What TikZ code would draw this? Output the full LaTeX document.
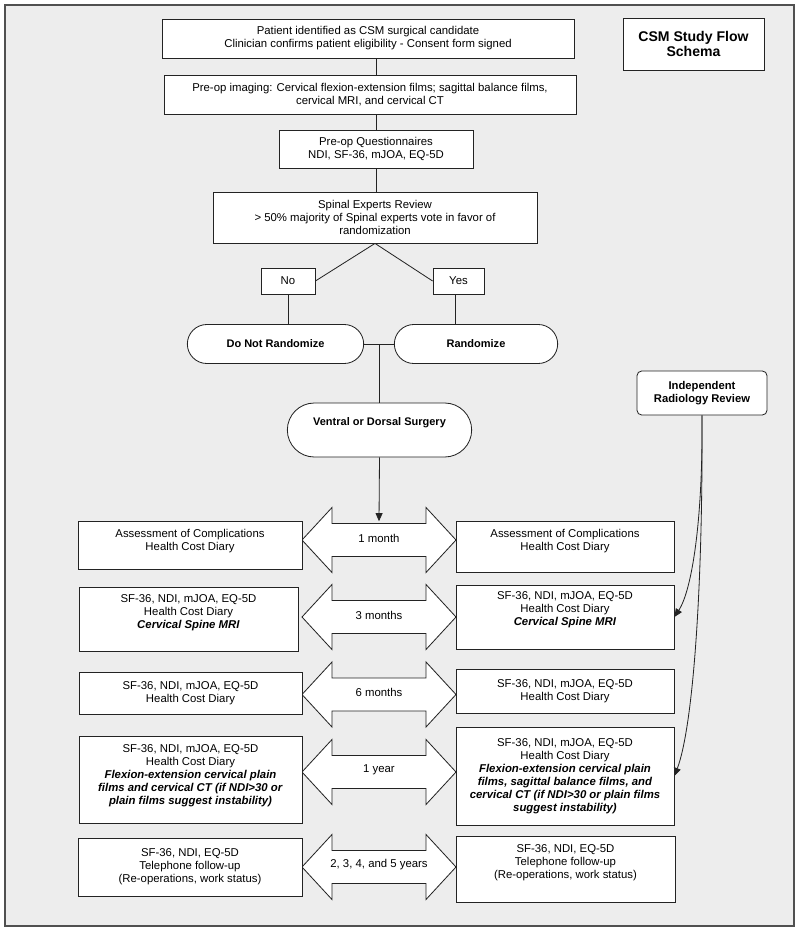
\documentclass[tikz,border=0pt]{standalone}
\usepackage{fontspec}
\setmainfont{Liberation Sans}
\usepackage{xcolor}
\usetikzlibrary{shapes.misc,arrows.meta}
\definecolor{csmbg}{RGB}{237,237,237}
\definecolor{csmline}{RGB}{35,35,35}
\definecolor{csmframe}{RGB}{80,80,80}

% double-headed time arrow centred at (#1,#2)
\newcommand{\timearrow}[2]{%
  \draw[tarrow] (#1-47,#2-16.5) -- ++(0,-16) -- ++(-30,32.5) -- ++(30,32.5)
    -- ++(0,-16) -- ++(94,0) -- ++(0,16) -- ++(30,-32.5) -- ++(-30,-32.5)
    -- ++(0,16) -- cycle;}

\tikzset{
  box/.style={draw=csmline, line width=0.7pt, fill=white, align=center, inner sep=2pt,
    font=\fontsize{9.7}{11.1}\selectfont},
  pill/.style={box, shape=rounded rectangle, font=\fontsize{9.4}{11}\selectfont\bfseries},
  tarrow/.style={draw=csmline, line width=0.7pt, fill=white},
  tlabel/.style={inner sep=0pt, minimum height=0.99cm, font=\fontsize{9.7}{11.1}\selectfont},
  link/.style={draw=csmline, line width=0.7pt},
  arr/.style={link, -{Triangle[length=7pt,width=6pt]}}
}

\begin{document}
\begin{tikzpicture}[x=0.03cm, y=-0.03cm]
\useasboundingbox (0,0) rectangle (800,932);
% Frame
\draw[csmframe, line width=1.2pt, fill=csmbg] (5,5) rectangle (794,926);

% Pre-op steps
\coordinate (axis) at (376,0);
\node[box, minimum width=12.36cm, minimum height=1.17cm] (patient) at (368,38.5)
  {Patient identified as CSM surgical candidate\\Clinician confirms patient eligibility - Consent form signed};
\node[box, minimum width=12.36cm, minimum height=1.17cm] (imaging) at (370,94.5)
  {Pre-op imaging: Cervical flexion-extension films; sagittal balance films,\\cervical MRI, and cervical CT};
\node[box, minimum width=5.82cm, minimum height=1.14cm] (quest) at (376,149)
  {Pre-op Questionnaires\\NDI, SF-36, mJOA, EQ-5D};
\node[box, minimum width=9.72cm, minimum height=1.53cm] (review) at (375,217.5)
  {Spinal Experts Review\\> 50\% majority of Spinal experts vote in favor of\\randomization};
\node[box, minimum width=4.23cm, minimum height=1.56cm, font=\fontsize{12}{13.6}\selectfont\bfseries]
  (title) at (693.5,44) {CSM Study Flow\\Schema};

\draw[link] (patient.south -| axis) -- (imaging.north -| axis);
\draw[link] (imaging.south -| axis) -- (quest.north);
\draw[link] (quest.south) -- (review.north -| quest.south);

% Decision
\node[box, minimum width=1.62cm, minimum height=0.78cm] (no) at (288,281) {No};
\node[box, minimum width=1.53cm, minimum height=0.78cm] (yes) at (458.5,281) {Yes};
\node[pill, minimum width=5.43cm, minimum height=1.17cm] (dnr) at (275.5,344) {Do Not Randomize};
\node[pill, minimum width=5.04cm, minimum height=1.17cm] (rand) at (476,344) {Randomize};
\node[pill, minimum width=5.67cm, minimum height=1.62cm] (surgery) at (379.5,430)
  {Ventral or Dorsal Surgery\\[4pt]};

\draw[link] (review.south) -- (no.east);
\draw[link] (review.south) -- (yes.west);
\draw[link] (no.south) -- (no.south |- dnr.north);
\draw[link] ([xshift=-2.5]yes.south) -- ([xshift=-2.5]yes.south |- rand.north);
\draw[link] (dnr.east) -- (rand.west);
\draw[link] (surgery.north) -- (surgery.north |- dnr.east);

% Radiology
\node[box, rounded corners=4pt, minimum width=3.9cm, minimum height=1.32cm,
  font=\fontsize{9.6}{11.4}\selectfont\bfseries] (radio) at (702,393) {Independent\\Radiology Review};

% Follow-up time points
\timearrow{379}{540}
\timearrow{379}{617}
\timearrow{379}{694.5}
\timearrow{379}{772}
\timearrow{379}{867}
\node[tlabel] (t1) at (379,538) {1 month};
\node[tlabel] (t2) at (379,615) {3 months};
\node[tlabel] (t3) at (379,692.5) {6 months};
\node[tlabel] (t4) at (379,770) {1 year};
\node[tlabel] (t5) at (379,865) {2, 3, 4, and 5 years};

\node[box, minimum width=6.72cm, minimum height=1.44cm] (l1) at (190,545)
  {Assessment of Complications\\Health Cost Diary\\[-3pt]};
\node[box, minimum width=6.54cm, minimum height=1.53cm] (r1) at (565,546.5)
  {Assessment of Complications\\Health Cost Diary\\[0pt]};
\node[box, minimum width=6.57cm, minimum height=1.92cm] (l2) at (188.5,619)
  {SF-36, NDI, mJOA, EQ-5D\\Health Cost Diary\\\textbf{\textit{Cervical Spine MRI}}\\[2pt]};
\node[box, minimum width=6.54cm, minimum height=1.92cm] (r2) at (565,617)
  {SF-36, NDI, mJOA, EQ-5D\\Health Cost Diary\\\textbf{\textit{Cervical Spine MRI}}\\[3pt]};
\node[box, minimum width=6.69cm, minimum height=1.26cm] (l3) at (190.5,693)
  {SF-36, NDI, mJOA, EQ-5D\\Health Cost Diary};
\node[box, minimum width=6.54cm, minimum height=1.32cm] (r3) at (565,691)
  {SF-36, NDI, mJOA, EQ-5D\\Health Cost Diary};
\node[box, minimum width=6.69cm, minimum height=2.61cm] (l4) at (190.5,779.5)
  {SF-36, NDI, mJOA, EQ-5D\\Health Cost Diary\\\textbf{\textit{Flexion-extension cervical plain}}\\
   \textbf{\textit{films and cervical CT (if NDI>30 or}}\\\textbf{\textit{plain films suggest instability)}}\\[-3pt]};
\node[box, minimum width=6.54cm, minimum height=2.94cm] (r4) at (565,776)
  {SF-36, NDI, mJOA, EQ-5D\\Health Cost Diary\\\textbf{\textit{Flexion-extension cervical plain}}\\
   \textbf{\textit{films, sagittal balance films, and}}\\\textbf{\textit{cervical CT (if NDI>30 or plain films}}\\
   \textbf{\textit{suggest instability)}}};
\node[box, minimum width=6.72cm, minimum height=1.74cm] (l5) at (190,867)
  {SF-36, NDI, EQ-5D\\Telephone follow-up\\(Re-operations, work status)};
\node[box, minimum width=6.57cm, minimum height=1.98cm] (r5) at (565.5,869)
  {SF-36, NDI, EQ-5D\\Telephone follow-up\\(Re-operations, work status)\\[2pt]};

% Arrows
\draw[arr] (surgery.south) -- (t1.north);
\draw[arr] (radio.south) .. controls (703,520) and (692,590) .. (r2.east);
\draw[arr] (radio.south) .. controls (703,600) and (692,730) .. (r4.east);
\end{tikzpicture}
\end{document}
